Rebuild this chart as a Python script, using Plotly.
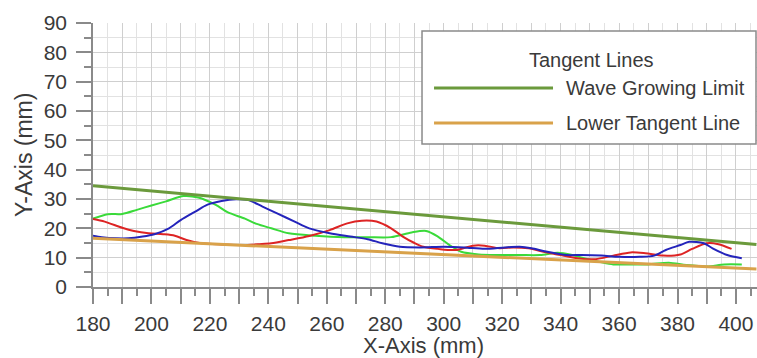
import plotly.graph_objects as go

# Measured wave profiles (mm)
green_x = [180, 185, 190, 195, 200, 205, 211, 216, 222, 226, 232, 236, 241, 247, 256, 266,
           274, 282, 289, 294, 298, 302, 306, 312, 319, 326, 333, 339, 344, 348, 354, 358,
           364, 370, 377, 383, 390, 396, 402]
green_y = [23.3, 24.8, 24.9, 26.3, 27.8, 29.2, 31.0, 30.5, 28.0, 25.5, 23.3, 21.5, 20.0, 18.3,
           17.5, 17.0, 17.0, 17.0, 18.6, 19.1, 17.2, 14.3, 12.0, 11.1, 10.9, 10.9, 10.9, 11.7,
           10.9, 9.8, 8.4, 7.7, 7.7, 7.7, 8.3, 7.5, 7.0, 7.7, 7.7]

red_x = [180, 184, 190, 194, 199, 204, 208, 212, 217, 224, 231, 237, 241, 247, 254, 261, 267,
         272, 277, 282, 286, 290, 293, 298, 304, 310, 314, 319, 324, 329, 335, 340, 347, 352,
         358, 364, 369, 375, 381, 385, 390, 394, 398.5]
red_y = [23.2, 22.3, 20.2, 19.1, 18.3, 18.0, 17.5, 16.0, 14.9, 14.5, 14.3, 14.6, 14.9, 16.0,
         17.4, 19.4, 21.7, 22.6, 22.3, 20.0, 17.2, 15.0, 13.7, 13.0, 12.6, 14.1, 14.1, 13.2,
         13.5, 13.2, 11.8, 10.9, 9.6, 9.5, 10.7, 11.8, 11.5, 10.7, 11.1, 13.0, 14.9, 14.6, 13.0]

blue_x = [180, 183, 188, 192, 197, 201, 206, 210, 215, 219, 224, 229, 233, 238, 243, 249, 254,
          261, 268, 274, 279, 285, 292, 300, 307, 314, 321, 326, 330, 335, 342, 347, 354, 360,
          367, 372, 376, 381, 384, 389, 392, 397, 402]
blue_y = [17.5, 17.0, 16.6, 16.6, 17.2, 18.0, 20.0, 22.8, 25.7, 28.0, 29.3, 29.9, 29.7, 27.4,
          25.1, 22.3, 20.0, 18.3, 17.2, 16.3, 14.9, 13.7, 13.5, 13.7, 13.5, 13.0, 13.5, 13.7,
          13.2, 12.1, 10.9, 10.9, 10.7, 10.3, 10.3, 10.7, 12.6, 14.3, 15.4, 14.9, 13.2, 10.9, 9.8]

# Tangent lines
tangent_x = [180, 407]
upper_tangent_y = [34.5, 14.5]
lower_tangent_y = [16.6, 6.1]

legend_title = "Tangent Lines"
legend_names = ["Wave Growing Limit", "Lower Tangent Line"]

X_TICKS = list(range(180, 408, 10))        # major ticks every 10, labelled every 20
X_LABELS = [str(v) if v % 20 == 0 else "" for v in X_TICKS]
Y_TICKS = list(range(0, 91, 10))

C_UPPER = "#6b9a3c"
C_LOWER = "#d9a24a"
FONT = "Liberation Sans, Arial, sans-serif"
TXT = "#3a3a3a"

fig = go.Figure()
for xs, ys, col in [(green_x, green_y, "#3ada3a"),
                    (red_x, red_y, "#dd2424"),
                    (blue_x, blue_y, "#2424bb")]:
    fig.add_trace(go.Scatter(x=xs, y=ys, mode="lines",
                             line=dict(color=col, width=2, shape="spline", smoothing=0.8),
                             showlegend=False, hoverinfo="skip"))

fig.add_trace(go.Scatter(x=tangent_x, y=upper_tangent_y, mode="lines",
                         line=dict(color=C_UPPER, width=3), name=legend_names[0],
                         showlegend=False))
fig.add_trace(go.Scatter(x=tangent_x, y=lower_tangent_y, mode="lines",
                         line=dict(color=C_LOWER, width=3), name=legend_names[1],
                         showlegend=False))

axis_common = dict(
    showline=True, linecolor="#8a8a8a", linewidth=1.5,
    ticks="outside", ticklen=15, tickwidth=1.5, tickcolor="#8a8a8a",
    showgrid=True, gridcolor="#cfcfcf", gridwidth=1,
    zeroline=False,
    tickfont=dict(family=FONT, size=21, color=TXT),
)
minor_common = dict(dtick=5, ticks="outside", ticklen=7, tickcolor="#8a8a8a",
                    tickwidth=1.5, showgrid=True, gridcolor="#e2e2e2", gridwidth=1)

fig.update_xaxes(range=[180, 407.2], tickmode="array", tickvals=X_TICKS,
                 ticktext=X_LABELS, ticklabelstandoff=2,
                 minor=dict(tick0=180, **minor_common), **axis_common)
fig.update_yaxes(range=[0, 90], tickmode="array", tickvals=Y_TICKS,
                 ticktext=[str(v) for v in Y_TICKS], ticklabelstandoff=5,
                 minor=dict(tick0=0, **minor_common), **axis_common)

# Legend panel
shapes = [
    dict(type="rect", xref="paper", yref="paper", x0=0.4955, x1=0.9985, y0=0.5417, y1=0.9697,
         line=dict(color="#8a8a8a", width=1.5), fillcolor="white", layer="above"),
    dict(type="line", xref="paper", yref="paper", x0=0.5136, x1=0.6928, y0=0.7538, y1=0.7538,
         line=dict(color=C_UPPER, width=3), layer="above"),
    dict(type="line", xref="paper", yref="paper", x0=0.5136, x1=0.6928, y0=0.6212, y1=0.6212,
         line=dict(color=C_LOWER, width=3), layer="above"),
]
annotations = [
    dict(text=legend_title, xref="paper", yref="paper", x=0.7515, y=0.8598,
         xanchor="center", yanchor="middle", showarrow=False,
         font=dict(family=FONT, size=20, color=TXT)),
    dict(text=legend_names[0], xref="paper", yref="paper", x=0.7093, y=0.7538,
         xanchor="left", yanchor="middle", showarrow=False,
         font=dict(family=FONT, size=20, color=TXT)),
    dict(text=legend_names[1], xref="paper", yref="paper", x=0.7093, y=0.6212,
         xanchor="left", yanchor="middle", showarrow=False,
         font=dict(family=FONT, size=20, color=TXT)),
    dict(text="X-Axis (mm)", xref="paper", yref="paper", x=0.497, y=-0.222,
         xanchor="center", yanchor="middle", showarrow=False,
         font=dict(family=FONT, size=22, color=TXT)),
    dict(text="Y-Axis (mm)", xref="paper", yref="paper", x=-0.104, y=0.5,
         xanchor="center", yanchor="middle", showarrow=False, textangle=-90,
         font=dict(family=FONT, size=23, color=TXT)),
]

fig.update_layout(
    width=757, height=358,
    margin=dict(l=93, r=0, t=23, b=71),
    paper_bgcolor="white", plot_bgcolor="white",
    shapes=shapes, annotations=annotations,
    showlegend=False,
)

fig.write_html("out.html", config={"displayModeBar": False})
